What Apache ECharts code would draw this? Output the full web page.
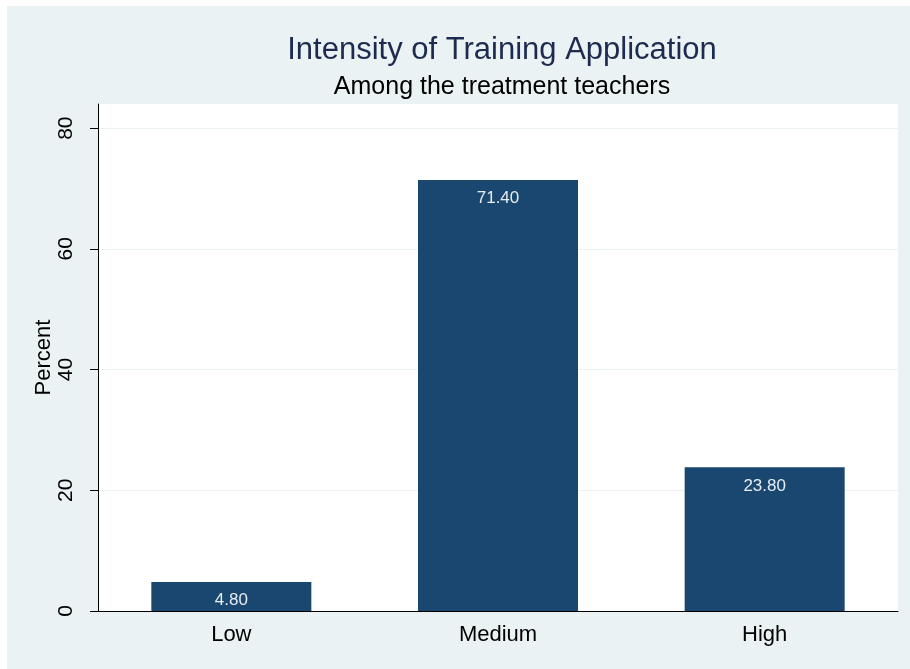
<!DOCTYPE html>
<html>
<head>
<meta charset="utf-8">
<script src="https://cdn.jsdelivr.net/npm/echarts@6/dist/echarts.min.js"></script>
<style>
  html, body { margin: 0; padding: 0; background: #fff; }
  #chart { width: 910px; height: 669px; }
</style>
</head>
<body>
<div id="chart"></div>
<script>
// categories and percentages
const categories = ['Low', 'Medium', 'High'];
const percents = [4.80, 71.40, 23.80];
const yTicks = [0, 20, 40, 60, 80];

const font = '"Liberation Sans", Arial, sans-serif';

const myChart = echarts.init(document.getElementById('chart'));
const option = {
    animation: false,
    backgroundColor: '#fff',
    graphic: [
        {
            type: 'rect',
            z: -10,
            shape: { x: 7, y: 6, width: 903, height: 663 },
            style: { fill: '#eaf2f3' }
        }
    ],
    title: [
        {
            text: 'Intensity of Training Application',
            left: 497,
            top: 30,
            textAlign: 'center',
            textStyle: { fontFamily: font, fontSize: 31, fontWeight: 'normal', color: '#1e2b50' }
        },
        {
            text: 'Among the treatment teachers',
            left: 497,
            top: 70,
            textAlign: 'center',
            textStyle: { fontFamily: font, fontSize: 25, fontWeight: 'normal', color: '#000' }
        }
    ],
    grid: {
        left: 98,
        right: 12,
        top: 104,
        bottom: 58,
        show: true,
        backgroundColor: '#fff',
        borderWidth: 0
    },
    xAxis: {
        type: 'category',
        data: categories,
        axisLine: { lineStyle: { color: '#000', width: 1 } },
        axisTick: { show: false },
        axisLabel: { fontFamily: font, fontSize: 22, color: '#000', margin: 13 }
    },
    yAxis: {
        type: 'value',
        min: 0,
        max: 84,
        interval: 20,
        name: 'Percent',
        nameLocation: 'middle',
        nameRotate: 90,
        nameGap: 43,
        nameMoveOverlap: false,
        nameTextStyle: { fontFamily: font, fontSize: 22, color: '#000' },
        axisLine: { show: true, lineStyle: { color: '#000', width: 1 } },
        axisTick: { show: true, length: 8, customValues: yTicks, lineStyle: { color: '#000' } },
        axisLabel: {
            customValues: yTicks,
            rotate: 90,
            fontFamily: font,
            fontSize: 21,
            color: '#000',
            margin: 21
        },
        splitLine: { show: true, lineStyle: { color: '#eaf2f3', width: 1 } }
    },
    series: [
        {
            type: 'bar',
            data: percents,
            barWidth: '60%',
            itemStyle: { color: '#1a476f' },
            label: {
                show: true,
                position: 'insideTop',
                distance: 10,
                formatter: p => p.value.toFixed(2),
                fontFamily: font,
                fontSize: 17,
                color: '#e6edf2'
            }
        }
    ]
};
myChart.setOption(option);
</script>
</body>
</html>
